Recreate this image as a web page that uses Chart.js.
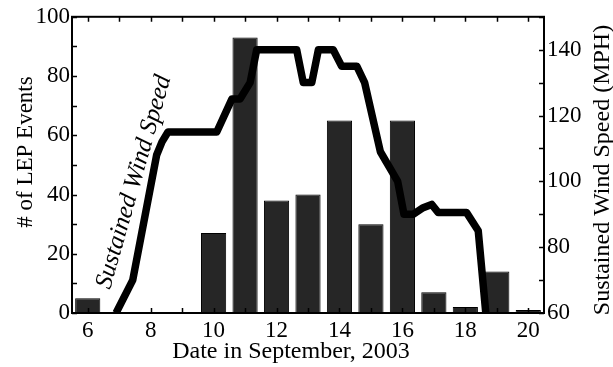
<!DOCTYPE html>
<html>
<head>
<meta charset="utf-8">
<script src="https://cdn.jsdelivr.net/npm/chart.js@4"></script>
<style>
  html, body { margin: 0; padding: 0; background: #fff; }
  #wrap { width: 613px; height: 367px; }
</style>
</head>
<body>
<div id="wrap"><canvas id="c" width="613" height="367"></canvas></div>
<script>
// ---- data ----
const eventDays = [6, 10, 11, 12, 13, 14, 15, 16, 17, 18, 19, 20];
const lepEvents = [5, 27, 93, 38, 40, 65, 30, 65, 7, 2, 14, 1];

const windDays  = [6.9, 7.43, 8.19, 8.36, 8.55, 10.1, 10.58, 10.84, 11.16, 11.37, 12.64, 12.85, 13.12, 13.33, 13.8, 14.07, 14.55, 14.8, 15.3, 15.85, 16.05, 16.34, 16.66, 16.93, 17.14, 18.04, 18.41, 18.65];
const windSpeed = [60, 70, 108, 112, 115, 115, 125, 125, 130, 140, 140, 130, 130, 140, 140, 135, 135, 130, 109, 100, 90, 90, 92, 93, 90.5, 90.5, 85, 60];

const xTickLabels  = [6, 8, 10, 12, 14, 16, 18, 20];
const yTickLabels  = [0, 20, 40, 60, 80, 100];
const y2TickLabels = [60, 80, 100, 120, 140];

const xTitle  = 'Date in September, 2003';
const yTitle  = '# of LEP Events';
const y2Title = 'Sustained Wind Speed (MPH)';
const seriesLabel = 'Sustained Wind Speed';

const SERIF = "'Liberation Serif', 'DejaVu Serif', serif";

const barData  = eventDays.map((d, i) => ({ x: d, y: lepEvents[i] }));
const lineData = windDays.map((d, i) => ({ x: d, y: windSpeed[i] }));

const frameAndLabels = {
  id: 'frameAndLabels',
  afterDatasetsDraw(chart) {
    const ctx = chart.ctx;
    const a = chart.chartArea;
    const sx = chart.scales.x, sy = chart.scales.y, sy2 = chart.scales.y2;
    const L = 5;
    ctx.save();
    ctx.strokeStyle = '#000';
    ctx.lineWidth = 1.5;
    ctx.beginPath();
    sx.ticks.forEach(t => {
      const px = Math.round(sx.getPixelForValue(t.value)) + 0.5;
      ctx.moveTo(px, a.bottom); ctx.lineTo(px, a.bottom - L);
      ctx.moveTo(px, a.top); ctx.lineTo(px, a.top + L);
    });
    sy.ticks.forEach(t => {
      const py = Math.round(sy.getPixelForValue(t.value)) + 0.5;
      ctx.moveTo(a.left, py); ctx.lineTo(a.left + L, py);
    });
    sy2.ticks.forEach(t => {
      const py = Math.round(sy2.getPixelForValue(t.value)) + 0.5;
      ctx.moveTo(a.right, py); ctx.lineTo(a.right - L, py);
    });
    ctx.stroke();
    ctx.lineWidth = 2;
    ctx.strokeRect(a.left, a.top, a.right - a.left, a.bottom - a.top);

    ctx.fillStyle = '#000';
    ctx.textAlign = 'center';
    ctx.textBaseline = 'middle';
    ctx.font = '24px ' + SERIF;
    ctx.fillText(xTitle, 291, 352);
    ctx.save();
    ctx.translate(26, 152);
    ctx.rotate(-Math.PI / 2);
    ctx.font = '23px ' + SERIF;
    ctx.fillText(yTitle, 0, 0);
    ctx.restore();
    ctx.save();
    ctx.translate(603, 170);
    ctx.rotate(-Math.PI / 2);
    ctx.font = '24px ' + SERIF;
    ctx.fillText(y2Title, 0, 0);
    ctx.restore();
    ctx.save();
    ctx.translate(134, 182);
    ctx.rotate(-74 * Math.PI / 180);
    ctx.font = 'italic 25px ' + SERIF;
    ctx.fillText(seriesLabel, 0, 0);
    ctx.restore();
    ctx.restore();
  }
};

new Chart(document.getElementById('c'), {
  type: 'bar',
  data: {
    datasets: [
      {
        type: 'line',
        label: seriesLabel,
        data: lineData,
        xAxisID: 'x',
        yAxisID: 'y2',
        borderColor: '#000',
        borderWidth: 7.5,
        borderJoinStyle: 'round',
        borderCapStyle: 'butt',
        pointRadius: 0,
        tension: 0,
        fill: false,
        order: 0
      },
      {
        type: 'bar',
        label: 'LEP Events',
        data: barData,
        xAxisID: 'x',
        yAxisID: 'y',
        backgroundColor: '#262626',
        borderColor: '#000',
        borderWidth: 1,
        barPercentage: 0.8,
        categoryPercentage: 1,
        order: 1
      }
    ]
  },
  options: {
    responsive: false,
    animation: false,
    devicePixelRatio: 1,
    layout: { padding: { top: 16, left: 0, right: 0, bottom: 0 } },
    plugins: { legend: { display: false }, tooltip: { enabled: false } },
    scales: {
      x: {
        type: 'linear',
        min: 5.5, max: 20.5,
        offset: false,
        grid: { display: false, drawTicks: false },
        border: { display: false },
        afterBuildTicks: s => { const t = []; for (let v = 6; v <= 20; v++) t.push({ value: v }); s.ticks = t; },
        afterFit: s => { s.height = 54; },
        ticks: {
          autoSkip: false, maxRotation: 0, padding: 4,
          color: '#000', font: { family: SERIF, size: 23 },
          callback: v => xTickLabels.includes(v) ? String(v) : ''
        }
      },
      y: {
        position: 'left',
        min: 0, max: 100,
        grid: { display: false, drawTicks: false },
        border: { display: false },
        afterBuildTicks: s => { const t = []; for (let v = 0; v <= 100; v += 10) t.push({ value: v }); s.ticks = t; },
        afterFit: s => { s.width = 72; },
        ticks: {
          autoSkip: false, padding: 2,
          color: '#000', font: { family: SERIF, size: 23 },
          callback: v => yTickLabels.includes(v) ? String(v) : ''
        }
      },
      y2: {
        position: 'right',
        min: 60, max: 150,
        grid: { display: false, drawTicks: false },
        border: { display: false },
        afterBuildTicks: s => { const t = []; for (let v = 60; v <= 150; v += 10) t.push({ value: v }); s.ticks = t; },
        afterFit: s => { s.width = 69; },
        ticks: {
          autoSkip: false, padding: 3,
          color: '#000', font: { family: SERIF, size: 23 },
          callback: v => y2TickLabels.includes(v) ? String(v) : ''
        }
      }
    }
  },
  plugins: [frameAndLabels]
});
</script>
</body>
</html>
